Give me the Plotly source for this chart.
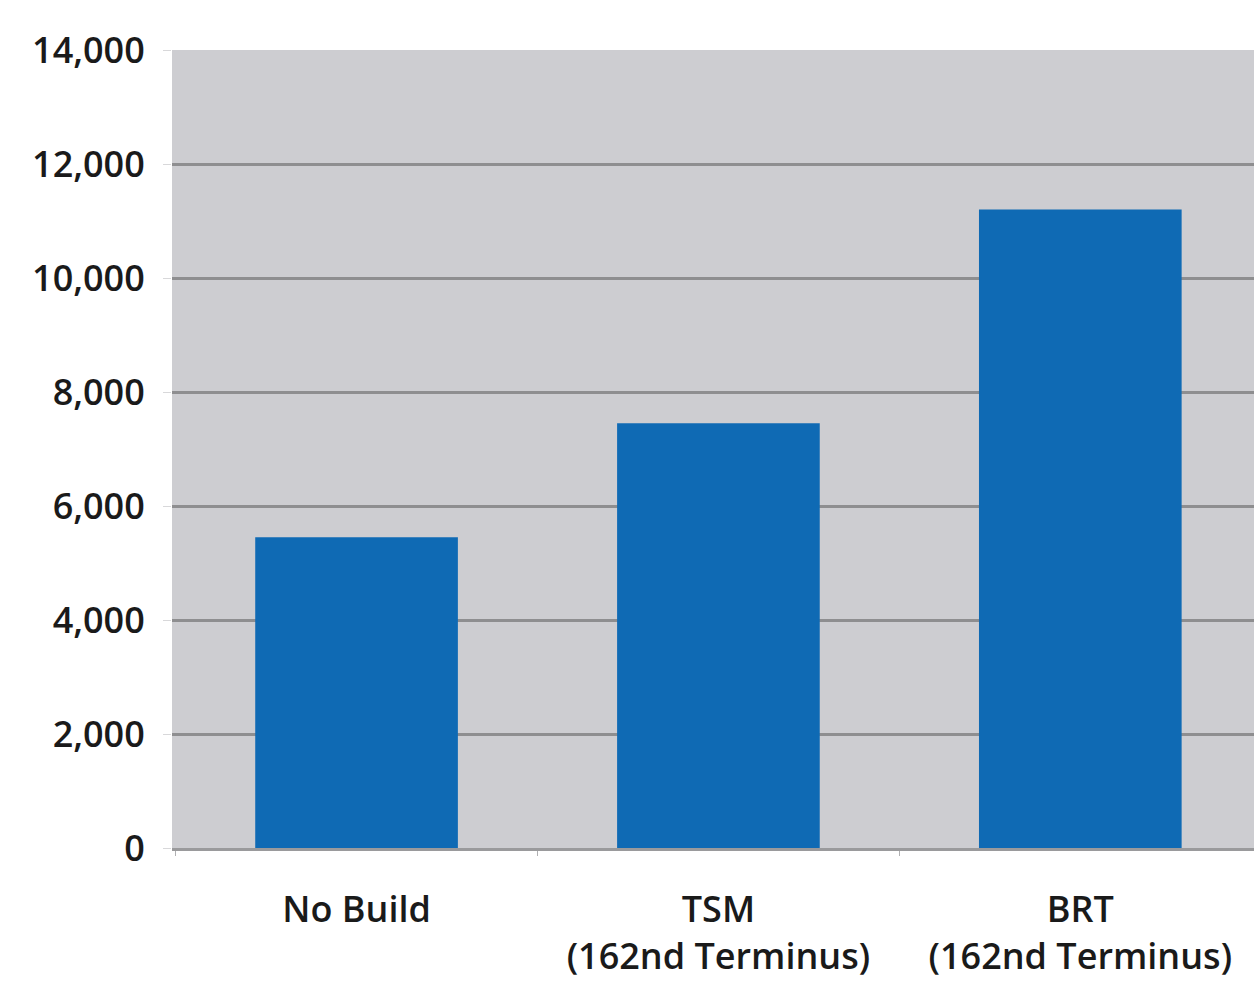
import plotly.graph_objects as go

# Daily ridership by alternative
categories = ["No Build", "TSM<br>(162nd Terminus)", "BRT<br>(162nd Terminus)"]
riders = [5450, 7450, 11200]
y_ticks = [0, 2000, 4000, 6000, 8000, 10000, 12000, 14000]
y_tick_labels = ["0", "2,000", "4,000", "6,000", "8,000", "10,000", "12,000", "14,000"]

font_family = "Open Sans"
label_font = dict(family=font_family, size=36, color="#1a1a1a", weight=600)

fig = go.Figure(
    go.Bar(
        x=categories,
        y=riders,
        marker=dict(color="#0f6ab4", line=dict(width=0)),
        width=0.56,
        hoverinfo="skip",
    )
)

fig.update_layout(
    width=1254,
    height=984,
    margin=dict(l=172, r=0, t=50, b=136),
    paper_bgcolor="white",
    plot_bgcolor="#cdcdd1",
    showlegend=False,
    font=label_font,
)

fig.update_xaxes(
    range=[-0.51, 2.48],
    showgrid=False,
    showline=True,
    linecolor="#9a9a9c",
    linewidth=3,
    ticks="outside",
    tickson="boundaries",
    ticklen=5,
    tickcolor="#b0b0b2",
    ticklabelstandoff=28,
    tickfont=label_font,
    fixedrange=True,
)

fig.update_yaxes(
    range=[0, 14000],
    tickvals=y_ticks,
    ticktext=y_tick_labels,
    showgrid=True,
    gridcolor="#8e8e90",
    gridwidth=3,
    zeroline=False,
    showline=False,
    ticks="outside",
    ticklen=8,
    tickcolor="#d8d8da",
    ticklabelstandoff=11,
    tickfont=label_font,
    fixedrange=True,
)

fig.write_html("out.html")
